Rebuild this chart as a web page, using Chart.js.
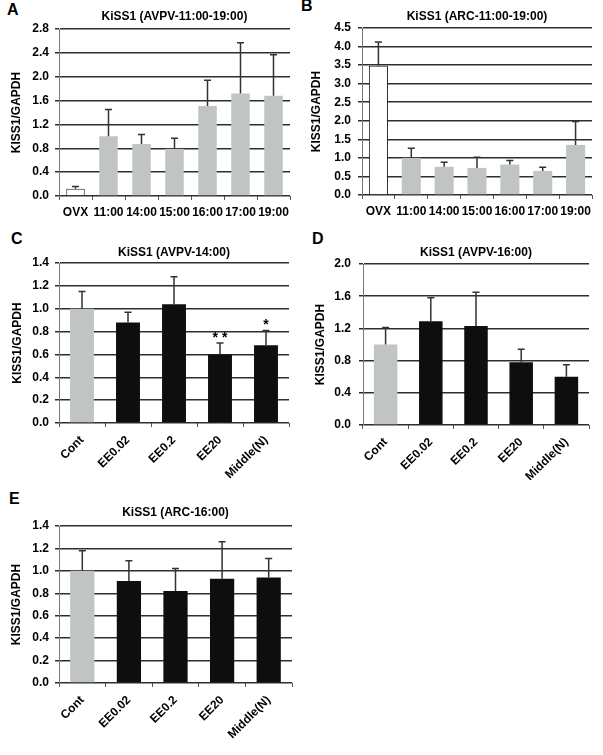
<!DOCTYPE html>
<html>
<head>
<meta charset="utf-8">
<script src="https://cdn.jsdelivr.net/npm/chart.js@4.4.1/dist/chart.umd.min.js"></script>
<style>
  body { margin: 0; background: #fff; }
  #wrap { position: relative; width: 603px; height: 755px; overflow: hidden; }
  canvas { position: absolute; }
  .tag { position: absolute; font: bold 16px "Liberation Sans", Arial, sans-serif; color: #000; }
</style>
</head>
<body>
<div id="wrap">
  <div class="tag" style="left:7px;top:1px">A</div>
  <div class="tag" style="left:301px;top:-3px">B</div>
  <div class="tag" style="left:11px;top:230px">C</div>
  <div class="tag" style="left:312px;top:230px">D</div>
  <div class="tag" style="left:9px;top:490px">E</div>
  <canvas id="chartA" width="300" height="220" style="left:0;top:0"></canvas>
  <canvas id="chartB" width="303" height="220" style="left:300px;top:0"></canvas>
  <canvas id="chartC" width="300" height="260" style="left:0;top:220px"></canvas>
  <canvas id="chartD" width="303" height="260" style="left:300px;top:220px"></canvas>
  <canvas id="chartE" width="300" height="275" style="left:0;top:480px"></canvas>
</div>
<script>
// categories
const timeLabels = ['OVX', '11:00', '14:00', '15:00', '16:00', '17:00', '19:00'];
const groupLabels = ['Cont', 'EE0.02', 'EE0.2', 'EE20', 'Middle(N)'];

// A: AVPV 11:00-19:00
const avpvTimeMean = [0.12, 1.00, 0.87, 0.79, 1.51, 1.72, 1.68];
const avpvTimeErr = [0.04, 0.45, 0.16, 0.18, 0.43, 0.85, 0.69];
// B: ARC 11:00-19:00
const arcTimeMean = [3.48, 1.00, 0.76, 0.73, 0.82, 0.65, 1.35];
const arcTimeErr = [0.64, 0.26, 0.12, 0.29, 0.11, 0.10, 0.63];
// C: AVPV 14:00
const avpv14Mean = [1.00, 0.88, 1.04, 0.60, 0.68];
const avpv14Err = [0.15, 0.09, 0.24, 0.10, 0.13];
const avpv14Marks = ['', '', '', '* *', '*'];
// D: AVPV 16:00
const avpv16Mean = [1.00, 1.29, 1.23, 0.78, 0.60];
const avpv16Err = [0.21, 0.29, 0.42, 0.16, 0.15];
// E: ARC 16:00
const arc16Mean = [1.00, 0.91, 0.82, 0.93, 0.94];
const arc16Err = [0.18, 0.18, 0.20, 0.33, 0.17];

const FONT = '"Liberation Sans", Arial, sans-serif';
const GRAY = '#c0c4c4';
const BLACK = '#0e0e0e';

// error bars (upper only) + significance marks
const errorBars = {
  id: 'errorBars',
  afterDatasetsDraw(chart, args, opts) {
    const ctx = chart.ctx;
    const y = chart.scales.y;
    const values = chart.data.datasets[0].data;
    const meta = chart.getDatasetMeta(0);
    ctx.save();
    ctx.strokeStyle = '#333';
    ctx.lineWidth = 1.5;
    ctx.fillStyle = '#000';
    ctx.font = 'bold 14px ' + FONT;
    ctx.textAlign = 'center';
    meta.data.forEach((bar, i) => {
      const top = y.getPixelForValue(values[i] + opts.errors[i]);
      ctx.beginPath();
      ctx.moveTo(bar.x, bar.y);
      ctx.lineTo(bar.x, top);
      ctx.moveTo(bar.x - 3.5, top);
      ctx.lineTo(bar.x + 3.5, top);
      ctx.stroke();
      if (opts.marks && opts.marks[i]) {
        ctx.fillText(opts.marks[i], bar.x, top - 1);
      }
    });
    ctx.restore();
  }
};

function makePanel(id, p) {
  const ctx = document.getElementById(id).getContext('2d');
  return new Chart(ctx, {
    type: 'bar',
    data: {
      labels: p.labels,
      datasets: [{
        data: p.mean,
        backgroundColor: p.colors,
        borderColor: '#222',
        borderWidth: p.borders,
        categoryPercentage: 1,
        barPercentage: p.barPct
      }]
    },
    options: {
      responsive: false,
      animation: false,
      devicePixelRatio: 1,
      layout: { padding: { left: 0, right: p.padRight, top: 0, bottom: 0 } },
      plugins: {
        legend: { display: false },
        tooltip: { enabled: false },
        title: {
          display: true,
          fullSize: false,
          text: p.title,
          color: '#000',
          font: { family: FONT, size: 12, weight: 'bold', lineHeight: 1.2 },
          padding: { top: p.titleTop, bottom: p.titleBottom }
        },
        errorBars: { errors: p.err, marks: p.marks }
      },
      scales: {
        x: {
          offset: true,
          grid: { offset: true, drawOnChartArea: false, tickLength: 4, color: '#555', lineWidth: 1 },
          border: { display: false },
          ticks: {
            color: '#000',
            font: { family: FONT, size: 12, weight: 'bold' },
            autoSkip: false,
            maxRotation: p.rot,
            minRotation: p.rot,
            padding: p.xPad
          },
          afterFit: s => { s.height = p.xHeight; }
        },
        y: {
          min: 0,
          max: p.yMax,
          ticks: {
            stepSize: p.step,
            color: '#000',
            font: { family: FONT, size: 12, weight: 'bold' },
            padding: p.yPad,
            callback: v => Number(v).toFixed(1)
          },
          grid: { color: '#2e2e2e', lineWidth: 1.5, tickLength: 4 },
          border: { display: true, color: '#777', width: 1 },
          title: {
            display: true,
            text: 'KISS1/GAPDH',
            color: '#000',
            font: { family: FONT, size: 12, weight: 'bold' },
            padding: { top: p.yTitlePad, bottom: 0 }
          },
          afterFit: s => { s.width = p.yWidth; }
        }
      }
    },
    plugins: [errorBars]
  });
}

const timeColors = ['#ffffff', GRAY, GRAY, GRAY, GRAY, GRAY, GRAY];
const timeBorders = [1, 0, 0, 0, 0, 0, 0];
const groupColors = [GRAY, BLACK, BLACK, BLACK, BLACK];

makePanel('chartA', {
  labels: timeLabels, mean: avpvTimeMean, err: avpvTimeErr,
  colors: timeColors, borders: timeBorders, barPct: 0.56,
  title: 'KiSS1 (AVPV-11:00-19:00)', titleTop: 9.8, titleBottom: 4.8,
  yMax: 2.8, step: 0.4, yWidth: 59, yPad: 6, yTitlePad: 9,
  padRight: 10, xHeight: 24, rot: 0, xPad: 5
});
makePanel('chartB', {
  labels: timeLabels, mean: arcTimeMean, err: arcTimeErr,
  colors: timeColors, borders: timeBorders, barPct: 0.58,
  title: 'KiSS1 (ARC-11:00-19:00)', titleTop: 9.8, titleBottom: 3.8,
  yMax: 4.5, step: 0.5, yWidth: 62, yPad: 7, yTitlePad: 9,
  padRight: 11, xHeight: 25, rot: 0, xPad: 5
});
makePanel('chartC', {
  labels: groupLabels, mean: avpv14Mean, err: avpv14Err, marks: avpv14Marks,
  colors: groupColors, borders: 0, barPct: 0.52,
  title: 'KiSS1 (AVPV-14:00)', titleTop: 25.8, titleBottom: 2.8,
  yMax: 1.4, step: 0.2, yWidth: 59, yPad: 6, yTitlePad: 10,
  padRight: 11, xHeight: 57, rot: 45, xPad: 6
});
makePanel('chartD', {
  labels: groupLabels, mean: avpv16Mean, err: avpv16Err,
  colors: groupColors, borders: 0, barPct: 0.52,
  title: 'KiSS1 (AVPV-16:00)', titleTop: 25.8, titleBottom: 3.8,
  yMax: 2.0, step: 0.4, yWidth: 63, yPad: 8, yTitlePad: 13,
  padRight: 14, xHeight: 55, rot: 45, xPad: 6
});
makePanel('chartE', {
  labels: groupLabels, mean: arc16Mean, err: arc16Err,
  colors: groupColors, borders: 0, barPct: 0.52,
  title: 'KiSS1 (ARC-16:00)', titleTop: 25.8, titleBottom: 5.8,
  yMax: 1.4, step: 0.2, yWidth: 59, yPad: 6, yTitlePad: 9,
  padRight: 8, xHeight: 72, rot: 45, xPad: 6
});
</script>
</body>
</html>
